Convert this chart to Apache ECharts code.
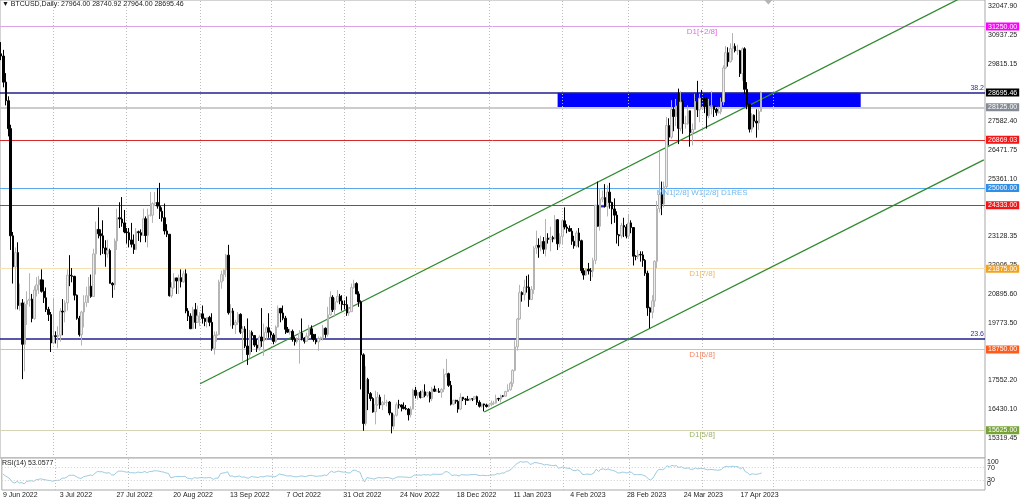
<!DOCTYPE html>
<html><head><meta charset="utf-8">
<script src="https://cdn.jsdelivr.net/npm/echarts/dist/echarts.min.js"></script>
<style>html,body{margin:0;padding:0;background:#fff}#c{width:1024px;height:500px}</style>
</head><body><div id="c"></div>
<script>
// ---------- DATA: daily candles [open, high, low, close] ----------
const jun22 = [
[30200,30650,29950,30110],[30110,30350,28900,29100],[29100,29450,28200,28380],[28380,28550,27000,27300],
[27300,27450,22600,23150],[23150,23300,21300,21950],[21950,22700,20300,22500],[22500,22900,20300,20450],
[20450,21300,20250,20550],[20550,20700,17600,18950],[18950,20600,17900,20500],[20500,21000,19700,20650],
[20650,21700,20400,20700],[20700,20900,19800,19950],[19950,21200,19900,21050],[21050,21550,20800,21250],
[21250,21600,20900,21450],[21450,21850,20950,21000],[21000,21450,20550,20750],[20750,21150,20200,20300],
[20300,20400,19850,20100],[20100,20200,18650,19000]];
const jul22 = [
[19000,20750,18950,19280],[19280,19450,18980,19250],[19250,19650,18800,19300],[19300,20350,19050,20230],
[20230,20700,19300,20200],[20200,20650,19800,20550],[20550,21850,20250,21630],[21630,22400,21200,21600],
[21600,21900,21350,21580],[21580,21600,20650,20850],[20850,20880,19900,19960],[19960,20050,19250,19320],
[19320,20250,18900,20200],[20200,20850,19600,20570],[20570,21180,20400,20830],[20830,21550,20550,21200],
[21200,21650,20750,20800],[20800,22650,20780,22450],[22450,23700,21650,23400],[23400,24250,23050,23230],
[23230,23400,22400,23150],[23150,23750,22450,22680],[22680,22980,21950,22450],[22450,23000,22300,22580],
[22580,22650,21300,21310],[21310,21350,20750,21250],[21250,23050,21050,22950],[22950,24200,22600,23850],
[23850,24450,23450,23800],[23800,24650,23500,23650],[23650,24150,23250,23300]];
const aug22 = [
[23300,23450,22850,23270],[23270,23450,22700,22990],[22990,23650,22700,22820],[22820,23200,22450,22620],
[22620,23450,22600,23310],[23310,23350,22950,23270],[23270,23400,22900,23170],[23170,24200,23150,23810],
[23810,23900,22900,23160],[23160,24200,22700,23950],[23950,24850,23900,23950],[23950,24450,23650,24400],
[24400,24850,24300,24440],[24440,25000,24200,24300],[24300,25200,23800,24100],[24100,24250,23700,23850],
[23850,24400,23200,23340],[23340,23600,23100,23210],[23210,23210,20800,20830],[20830,21350,20750,21140],
[21140,21700,21100,21520],[21520,21520,20900,21400],[21400,21650,20900,21530],[21530,21850,21150,21370],
[21370,21800,21330,21680],[21680,21850,20150,20240],[20240,20350,19850,20040],[20040,20150,19550,19550],
[19550,20400,19550,20290],[20290,20550,19550,19800],[19800,20450,19800,20050]];
const sep22 = [
[20050,20200,19650,20130],[20130,20450,19750,19950],[19950,19980,19650,19830],[19830,20000,19600,19990],
[19990,20050,19650,19800],[19800,20150,18700,18790],[18790,19450,18550,19290],[19290,19450,19050,19320],
[19320,21450,19300,21360],[21360,21800,21100,21650],[21650,21850,21400,21830],[21830,22450,21550,22400],
[22400,22800,20100,20170],[20170,20500,19650,20240],[20240,20350,19550,19700],[19700,19900,19350,19800],
[19800,20200,19700,20110],[20110,20150,19350,19420],[19420,19650,18300,19540],[19540,19650,18800,18880],
[18880,19950,18150,18550],[18550,19500,18400,19410],[19410,19480,18650,19290],[19290,19300,18850,18920],
[18920,19150,18650,18800],[18800,19300,18700,19230],[19230,20350,18850,19080],[19080,19750,18500,19410],
[19410,19650,19100,19590],[19590,20150,19200,19420]];
const oct22 = [
[19420,19480,19200,19310],[19310,19380,18950,19060],[19060,19680,19000,19620],[19620,20450,19600,20340],
[20340,20350,19800,20160],[20160,20450,19880,19960],[19960,20050,19350,19530],[19530,19620,19400,19420],
[19420,19550,19320,19450],[19450,19520,19050,19140],[19140,19250,18900,19050],[19050,19220,18980,19160],
[19160,19500,18200,19380],[19380,19950,19100,19190],[19190,19220,18980,19070],[19070,19400,19050,19270],
[19270,19700,19150,19550],[19550,19680,19150,19330],[19330,19350,19050,19130],[19130,19350,18950,19040],
[19040,19250,18700,19170],[19170,19250,19100,19210],[19210,19700,19100,19570],[19570,19600,19200,19330],
[19330,20400,19250,20090],[20090,21000,20060,20770],[20770,20850,20200,20290],[20290,20750,20000,20600],
[20600,21050,20550,20810],[20810,20900,20500,20630],[20630,20850,20250,20490]];
const nov22 = [
[20490,20650,20300,20480],[20480,20800,20050,20160],[20160,20400,20050,20210],[20210,21300,20200,21150],
[21150,21450,21100,21300],[21300,21350,20900,20900],[20900,21000,20400,20590],[20590,20650,17200,18540],
[18540,18600,15600,15880],[15880,18100,15800,17590],[17590,17650,16400,17040],[17040,17100,16750,16850],
[16850,16900,16300,16330],[16330,17150,15850,16620],[16620,17100,16560,16900],[16900,17000,16450,16600],
[16600,16750,16400,16690],[16690,17000,16600,16700],[16700,16800,16550,16710],[16710,16750,16200,16290],
[16290,16300,15500,15780],[15780,16250,15650,16200],[16200,16700,16150,16610],[16610,16800,16460,16600],
[16600,16620,16350,16520],[16520,16700,16430,16460],[16460,16600,16400,16440],[16440,16480,16000,16220],
[16220,16550,16120,16440],[16440,17230,16430,17170]];
const dec22 = [
[17170,17300,16850,16970],[16970,17100,16800,17090],[17090,17150,16850,16890],[16890,17200,16880,17110],
[17110,17400,16900,16970],[16970,17100,16900,17090],[17090,17130,16700,16840],[16840,17300,16750,17220],
[17220,17350,17100,17130],[17130,17220,17100,17130],[17130,17250,17070,17090],[17090,17250,16880,17210],
[17210,18000,17100,17780],[17780,18380,17670,17810],[17810,17850,17300,17360],[17360,17530,16580,16630],
[16630,16800,16590,16780],[16780,16800,16650,16740],[16740,16800,16300,16440],[16440,17050,16400,16900],
[16900,16900,16750,16830],[16830,16870,16600,16820],[16820,16950,16770,16780],[16780,16870,16770,16840],
[16840,16850,16750,16830],[16830,16940,16800,16920],[16920,16960,16600,16700],[16700,16780,16500,16550],
[16550,16650,16500,16640],[16640,16650,16350,16600],[16600,16650,16500,16540]];
const jan23 = [
[16540,16630,16500,16610],[16610,16770,16550,16670],[16670,16760,16600,16670],[16670,17000,16650,16850],
[16850,16880,16750,16830],[16830,17000,16700,16950],[16950,16980,16900,16940],[16940,17150,16910,17120],
[17120,17400,17100,17190],[17190,17500,17150,17440],[17440,17980,17300,17940],[17940,19100,17900,18850],
[18850,19970,18700,19930],[19930,21250,19900,20950],[20950,21000,20600,20870],[20870,21450,20650,21170],
[21170,21600,20950,21160],[21160,21650,20400,20680],[20680,21200,20680,21070],[21070,22750,20900,22670],
[22670,23350,22450,22780],[22780,23050,22300,22710],[22710,23150,22550,22930],[22930,23100,22450,22630],
[22630,23800,22350,23060],[23060,23250,22850,23010],[23010,23500,22550,23080],[23080,23150,22900,23030],
[23030,23950,23000,23770],[23770,23800,22600,22840],[22840,23250,22700,23130]];
const feb23 = [
[23130,23800,22800,23730],[23730,24250,23400,23490],[23490,23600,23250,23430],[23430,23550,23300,23330],
[23330,23450,22800,22940],[22940,23150,22650,22760],[22760,23350,22700,23260],[23260,23450,22700,22960],
[22960,23000,21700,21800],[21800,21900,21450,21630],[21630,21900,21600,21860],[21860,22100,21650,21790],
[21790,21900,21400,21780],[21780,22300,21550,22200],[22200,24350,22050,24330],[24330,25250,23500,23520],
[23520,25000,23350,24570],[24570,24900,24450,24630],[24630,25150,24250,24280],[24280,25100,23900,24840],
[24840,25200,24200,24440],[24440,24470,23600,24190],[24190,24600,23650,23950],[23950,24100,22850,23190],
[23190,23220,22750,23150],[23150,23650,23050,23550],[23550,23850,23100,23490],[23490,23600,23050,23140]];
const mar23 = [
[23140,24000,23050,23650],[23650,23750,23250,23470],[23470,23480,22000,22360],[22360,22400,22200,22350],
[22350,22600,22250,22430],[22430,22550,22150,22410],[22410,22550,21950,22200],[22200,22250,21600,21700],
[21700,21800,20050,20360],[20360,20400,19570,20190],[20190,20850,19950,20630],[20630,22200,20400,22160],
[22160,24500,21900,24200],[24200,26400,24050,24750],[24750,25250,23950,24380],[24380,25250,24250,25050],
[25050,27750,25000,27420],[27420,27700,26650,26970],[26970,28400,26900,28040],[28040,28500,27200,27770],
[27770,28450,27400,28180],[28180,28850,26700,27310],[27310,28750,27200,28330],[28330,28400,27100,27490],
[27490,27800,27300,27490],[27490,28200,27450,27990],[27990,28000,26600,27140],[27140,27500,26650,27270],
[27270,28650,27250,28350],[28350,29150,27750,28030],[28030,28650,27550,28480]];
const apr23 = [
[28480,28800,28300,28450],[28450,28500,27900,28200],[28200,28500,27300,27800],[27800,28450,27700,28170],
[28170,28750,27850,28180],[28180,28200,27750,28040],[28040,28100,27800,27920],[27920,28150,27880,27950],
[27950,28500,27850,28330],[28330,29750,28200,29650],[29650,30500,29600,30240],[30240,30450,29700,29890],
[29890,30600,29850,30400],[30400,31000,29950,30490],[30490,30600,30250,30320],[30320,30550,30150,30320],
[30320,30350,29300,29430],[29430,30450,29150,30390],[30390,30450,28650,28820],[28820,29100,28050,28250],
[28250,28400,27150,27280],[27280,27900,27150,27820],[27820,27850,27350,27590],[27590,28050,26950,27520],
[27520,28050,27250,27964],[27964,28740.92,27964,28695.46]];

// RSI(14) values
const rsiJun22 = [50,44,40,34,24,22,27,22,23,19,27,28,29,27,32,33,35,33,32,30,30,27];
const rsiJul22 = [30,30,31,37,37,40,46,46,46,42,38,36,41,43,45,47,45,53,58,57,57,54,53,54,47,47,55,59,59,58,56];
const rsiAug22 = [56,54,54,53,56,55,55,58,54,58,58,60,60,59,57,56,53,52,38,40,42,42,42,42,43,37,36,34,39,37,38];
const rsiSep22 = [39,38,38,39,38,33,37,37,51,53,54,57,43,44,41,42,44,40,41,38,37,42,41,40,39,42,41,43,44,43];
const rsiOct22 = [43,41,45,50,48,47,44,44,44,42,41,42,44,43,42,44,46,45,43,43,44,44,47,45,54,59,55,57,59,57,56];
const rsiNov22 = [56,53,54,61,62,58,56,38,25,39,37,36,34,37,39,38,38,39,39,37,34,38,41,41,41,40,40,39,41,47];
const rsiDec22 = [46,47,46,48,47,48,46,50,49,49,49,50,57,57,52,45,47,46,44,48,47,47,47,48,48,49,46,45,46,45,45];
const rsiJan23 = [46,47,47,51,50,53,53,58,60,65,72,80,85,89,87,88,88,80,82,86,85,83,82,78,80,78,77,76,78,68,70];
const rsiFeb23 = [72,69,68,67,62,60,63,60,50,48,50,49,49,53,65,58,65,66,63,66,63,61,59,54,53,56,55,53];
const rsiMar23 = [56,55,48,48,48,48,46,43,35,31,37,50,62,65,63,67,76,72,77,75,76,70,73,68,68,69,64,65,69,66,68];
const rsiApr23 = [67,66,63,64,64,63,62,62,64,71,74,72,74,74,73,73,66,71,58,54,47,51,49,49,51,53.0577];

// Price axis tick labels and levels
const priceTicks = [32047.90,30937.25,29815.15,27582.40,26471.75,25361.10,23128.35,22006.25,20895.60,19773.50,17552.20,16430.10,15319.45];
const rsiInnerTicks = [70,30];
const rsiEdgeTicks = [100,0];
const rsiLevels = [70,30];
const levelPrices = [31250.00,28125.00,26869.03,25000.00,24333.00,21875.00,18750.00,15625.00];
const bidPrice = 28695.46;
const fibPrices = [28690,19160];
const fibTexts = ['38.2','23.6'];
const tagTexts = ['D1[+2/8]','MN1[2/8] W1[2/8] D1RES','D1[7/8]','D1[6/8]','D1[5/8]'];
const tagPrices = [31250,25000,21875,18750,15625];
const tagDay = 296;
const trendUpper = [[84,17420],[415,32807]];
const trendLower = [[204,16327],[415,26089]];
const zoneBox = [[234.7,28690],[362.7,28125]];
const markerBox = [[251,24345],[255,24250]];
const shiftMark = [324,32280];

// ---------- STYLE / LAYOUT ----------
const levelLineColors = ['#dca4e6','#cccccc','#d42a2a','#5aa9ee','#d42a2a','#f6e2b0','#f3b3a3','#d4d4b4'];
const levelLineWidths = [1,2,1,1,1,1,1,1];
const levelTagColors = ['#ff00ff','#858b94','#f21616','#2f8fe8','#f21616','#f3a21f','#ff5b1c','#76a236'];
const tagColors = ['#e23fe2','#4ea6ea','#f0a43a','#ee6a3e','#86a044'];
const FONT = 'Liberation Sans';
const yMax = 32280.2, yMin = 14546.5;

const monthNames = ['Jan','Feb','Mar','Apr','May','Jun','Jul','Aug','Sep','Oct','Nov','Dec'];
const startDay = Date.UTC(2022,5,9);
const totalDays = 416;
const categories = [];
for (let i = 0; i < totalDays; i++) {
  const d = new Date(startDay + i*86400000);
  categories.push(d.getUTCDate() + ' ' + monthNames[d.getUTCMonth()] + ' ' + d.getUTCFullYear());
}
const ohlc = [].concat(jun22,jul22,aug22,sep22,oct22,nov22,dec22,jan23,feb23,mar23,apr23);
const rsi = [].concat(rsiJun22,rsiJul22,rsiAug22,rsiSep22,rsiOct22,rsiNov22,rsiDec22,rsiJan23,rsiFeb23,rsiMar23,rsiApr23);
const lastIdx = ohlc.length - 1;
const monthStarts = categories.map((c,i)=> c.startsWith('1 ') ? i : -1).filter(i => i >= 0 && i <= lastIdx + 6);
const last = ohlc[lastIdx];
const titleText = '\u25BC BTCUSD,Daily: ' + last.map(v => v.toFixed(2)).join(' ');

const vLines = monthStarts.map(i => ({xAxis: i, lineStyle:{color:'#bcbcbc', type:[1,2], width:1}, label:{show:false}}));
const tagLabel = (bg) => ({show:true, position:'end', backgroundColor:bg, color:'#fff', fontSize:7, fontFamily:FONT, padding:[1,2,0,2], distance:1});

const levelLines = levelPrices.map((p,i) => ({
  yAxis: p,
  lineStyle: {color: levelLineColors[i], width: levelLineWidths[i], type:'solid'},
  label: Object.assign(tagLabel(levelTagColors[i]), {formatter: p.toFixed(2)})
}));
const fibLines = fibPrices.map((p,i) => ({
  yAxis: p,
  lineStyle: {color:'#22228c', width:1.5, type:'solid'},
  label: {show:true, position:'insideEndTop', formatter: fibTexts[i], color:'#2b2ba0', fontSize:7, fontFamily:FONT, distance:1}
}));
const bidLine = {yAxis: bidPrice, lineStyle:{color:'rgba(0,0,0,0)', width:1, type:'solid'},
  label: Object.assign(tagLabel('#000000'), {formatter: bidPrice.toFixed(2)})};

const hiddenAxisParts = {axisLine:{show:false}, axisTick:{show:false}, splitLine:{show:false}};

const option = {
  animation: false,
  textStyle: {fontFamily: FONT},
  title: [
    {text: titleText, left: 2, top: 1, padding: 0, textStyle:{fontSize:7, fontWeight:'normal', color:'#1a1a1a', fontFamily:FONT}},
    {text: 'RSI(14) ' + rsi[lastIdx], left: 2, top: 460, padding: 0, textStyle:{fontSize:7, fontWeight:'normal', color:'#1a1a1a', fontFamily:FONT}}
  ],
  grid: [
    {left:0, right:39, top:0, height:458, show:true, borderColor:'#a8a8a8', borderWidth:1, backgroundColor:'#fff'},
    {left:0, right:39, top:458, height:32, show:true, borderColor:'#a8a8a8', borderWidth:1, backgroundColor:'#fff'}
  ],
  xAxis: [
    {type:'category', gridIndex:0, data:categories, boundaryGap:true,
     axisLine:{show:false}, axisTick:{show:false}, axisLabel:{show:false}, splitLine:{show:false}},
    {type:'category', gridIndex:1, data:categories, boundaryGap:true,
     axisLine:{show:false}, axisTick:{show:false}, splitLine:{show:false},
     axisLabel:{show:true, interval:(idx)=> idx % 24 === 0 && idx <= lastIdx, align:'left',
       fontSize:7, color:'#222', margin:2, fontFamily:FONT}}
  ],
  yAxis: [
    Object.assign({type:'value', gridIndex:0, position:'right', min:yMin, max:yMax,
     axisLabel:{customValues: priceTicks, formatter:(v)=> v.toFixed(2), fontSize:7, color:'#222', margin:3, fontFamily:FONT}}, hiddenAxisParts),
    Object.assign({type:'value', gridIndex:1, position:'right', min:0, max:100,
     axisLabel:{customValues: rsiInnerTicks, fontSize:7, color:'#222', margin:2, fontFamily:FONT}}, hiddenAxisParts),
    Object.assign({type:'value', gridIndex:1, position:'right', min:0, max:100,
     axisLabel:{customValues: rsiEdgeTicks, fontSize:7, color:'#222', margin:2, fontFamily:FONT,
       showMinLabel:true, showMaxLabel:true,
       formatter:(v)=> v === 100 ? '{d|100}' : '{u|0}',
       rich:{d:{padding:[8,0,0,0], fontSize:7, color:'#222', fontFamily:FONT}, u:{padding:[0,0,11,0], fontSize:7, color:'#222', fontFamily:FONT}}}}, hiddenAxisParts)
  ],
  series: [
    {type:'line', name:'trendUpper', xAxisIndex:0, yAxisIndex:0, data: trendUpper, z:1,
     symbol:'none', lineStyle:{color:'#2f8a2f', width:1.3}, silent:true, clip:true,
     markArea:{silent:true, z:1, label:{show:false},
       data:[
         [{coord: zoneBox[0], itemStyle:{color:'#0000ff', opacity:1}}, {coord: zoneBox[1]}],
         [{coord: markerBox[0], itemStyle:{color:'#2424d0', opacity:1}}, {coord: markerBox[1]}]
       ]},
     markLine:{silent:true, z:1, symbol:['none','none'], precision:2,
       data: vLines.concat(levelLines, fibLines, [bidLine])},
     markPoint:{silent:true, data:[{coord: shiftMark, symbol:'diamond', symbolSize:[8,9], itemStyle:{color:'#b4b4b4'}, label:{show:false}}]}
    },
    {type:'line', name:'trendLower', xAxisIndex:0, yAxisIndex:0, data: trendLower, z:1,
     symbol:'none', lineStyle:{color:'#2f8a2f', width:1.3}, silent:true, clip:true},
    {type:'candlestick', name:'BTCUSD', xAxisIndex:0, yAxisIndex:0, z:3, barWidth:2,
     data: ohlc.map(([o,h,l,c]) => [o,c,l,h]),
     itemStyle:{color:'#ececec', color0:'#000000', borderColor:'#b4b4b4', borderColor0:'#000000', borderWidth:1}},
    {type:'scatter', name:'tags', xAxisIndex:0, yAxisIndex:0, z:4, symbolSize:0, silent:true,
     data: tagPrices.map((p,i) => ({value:[tagDay, p], label:{color: tagColors[i]}})),
     label:{show:true, position:'bottom', distance:1, fontSize:8, fontFamily:FONT,
       formatter:(p)=> tagTexts[p.dataIndex]}},
    {type:'line', name:'RSI', xAxisIndex:1, yAxisIndex:1, data: rsi, z:2,
     symbol:'none', lineStyle:{color:'#9ccbe0', width:1}, silent:true,
     markLine:{silent:true, symbol:['none','none'],
       data: vLines.concat(rsiLevels.map(v => ({yAxis:v, lineStyle:{color:'#cfcfcf', type:[1,2], width:1}, label:{show:false}})))}}
  ]
};
const chart = echarts.init(document.getElementById('c'), null, {renderer:'canvas'});
chart.setOption(option);
</script>
</body></html>
